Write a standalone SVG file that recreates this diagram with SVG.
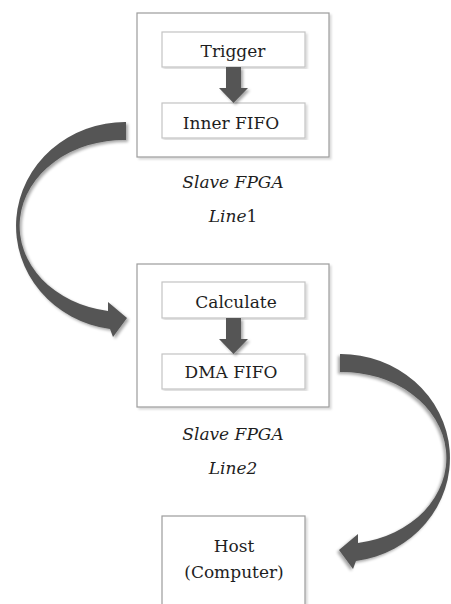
<svg xmlns="http://www.w3.org/2000/svg" xmlns:xlink="http://www.w3.org/1999/xlink" width="451" height="604" viewBox="0 0 451 604">
<style>
  .outer { fill: #ffffff; stroke: #9c9c9c; stroke-width: 1.2; }
  .inner { fill: #ffffff; stroke: #c4c4c4; stroke-width: 1.2; }
  .t { font-family: "DejaVu Serif", serif; font-size: 17px; fill: #1e1e1e; text-anchor: middle; }
  .it { font-style: italic; }
  .arrow { fill: #555555; }
</style>
<defs>
  <filter id="sh" x="-20%" y="-20%" width="140%" height="140%">
    <feGaussianBlur in="SourceAlpha" stdDeviation="1.5"/>
    <feOffset dx="2" dy="2" result="b"/>
    <feComponentTransfer><feFuncA type="linear" slope="0.35"/></feComponentTransfer>
    <feMerge><feMergeNode/><feMergeNode in="SourceGraphic"/></feMerge>
  </filter>
  <filter id="bsh" x="-5%" y="-5%" width="110%" height="110%">
    <feGaussianBlur in="SourceAlpha" stdDeviation="0.8"/>
    <feOffset dx="1.5" dy="1.5" result="b"/>
    <feComponentTransfer><feFuncA type="linear" slope="0.15"/></feComponentTransfer>
    <feMerge><feMergeNode/><feMergeNode in="SourceGraphic"/></feMerge>
  </filter>
  <path id="curved" d="M126,122 A109,104 0 0 0 110,329 L113,337 L127,318 L108,302 L108,311 A104,86 0 0 1 126,140 Z"/>
  <path id="down" d="M226,0 H241 V21 H248 L233.5,36 L219,21 H226 Z"/>
</defs>

<g id="slave1">
  <rect class="outer" x="137" y="13" width="192" height="144" filter="url(#bsh)"/>
  <g id="trigger">
    <rect class="inner" x="162" y="32" width="143" height="35" filter="url(#bsh)"/>
    <text class="t" x="233" y="57">Trigger</text>
  </g>
  <g id="innerfifo">
    <rect class="inner" x="162" y="103" width="143" height="35" filter="url(#bsh)"/>
    <text class="t" x="231" y="129">Inner FIFO</text>
  </g>
  <text class="t it" x="233" y="188">Slave FPGA</text>
  <text class="t it" x="233" y="222">Line<tspan font-style="normal">1</tspan></text>
</g>

<g id="slave2">
  <rect class="outer" x="137" y="264" width="192" height="143" filter="url(#bsh)"/>
  <g id="calculate">
    <rect class="inner" x="162" y="282" width="143" height="36" filter="url(#bsh)"/>
    <text class="t" x="236" y="308">Calculate</text>
  </g>
  <g id="dmafifo">
    <rect class="inner" x="162" y="354" width="143" height="35" filter="url(#bsh)"/>
    <text class="t" x="231" y="378">DMA FIFO</text>
  </g>
  <text class="t it" x="233" y="440">Slave FPGA</text>
  <text class="t it" x="233" y="474">Line2</text>
</g>

<g id="host">
  <rect class="outer" x="162" y="516" width="143" height="100" filter="url(#bsh)"/>
  <text class="t" x="234" y="552">Host</text>
  <text class="t" x="234" y="578">(Computer)</text>
</g>

<g id="connectors">
  <use xlink:href="#down" href="#down" class="arrow" transform="translate(0,67)" filter="url(#sh)"/>
  <use xlink:href="#down" href="#down" class="arrow" transform="translate(0,318)" filter="url(#sh)"/>
  <use xlink:href="#curved" href="#curved" class="arrow" filter="url(#sh)"/>
  <use xlink:href="#curved" href="#curved" class="arrow" transform="translate(466,232) scale(-1,1)" filter="url(#sh)"/>
</g>
</svg>
